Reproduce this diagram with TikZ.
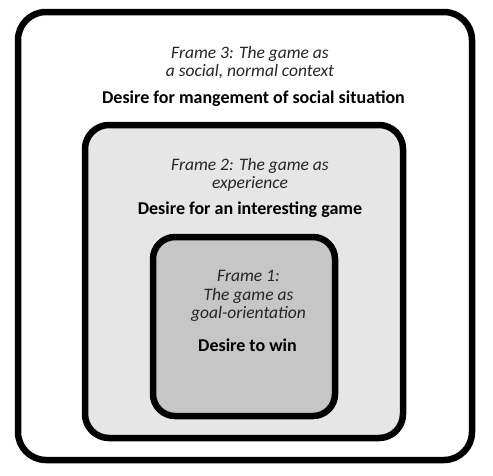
\documentclass[tikz,border=0pt]{standalone}
\usepackage{fontspec}
\setmainfont{Carlito}
\usepackage{tikz}
\definecolor{grauhell}{HTML}{E6E6E6}
\definecolor{graudunkel}{HTML}{C6C6C6}
\tikzset{
    rahmen/.style={
           rectangle,
           rounded corners=24pt,
           draw=black, line width=6.5pt},
    titel/.style={
           align=center, inner sep=0pt,
           font=\fontsize{17.5}{18.5}\selectfont\itshape,
           text=black!85},
    wunsch/.style={
           align=center, inner sep=0pt,
           font=\fontsize{18}{18}\selectfont\bfseries}
    }
\begin{document}
\begin{tikzpicture}[x=1pt,y=-1pt]
      \useasboundingbox (0,0) rectangle (493,475);
      \node[rahmen, fill=white, minimum width=454pt, minimum height=448pt, rounded corners=28pt] (f3) at (245,236) {};
      \node[rahmen, fill=grauhell, minimum width=318pt, minimum height=313pt] (f2) at (244,281.5) {};
      \node[rahmen, fill=graudunkel, minimum width=182pt, minimum height=179pt, rounded corners=22pt] (f1) at (244,326.5) {};
      \node[titel] (t3) at (250,62.5) {Frame 3: The game as\\a social, normal context};
      \node[wunsch] (w3) at (253.5,99) {Desire for mangement of social situation};
      \node[titel] (t2) at (250,175) {Frame 2: The game as\\experience};
      \node[wunsch] (w2) at (250,209.5) {Desire for an interesting game};
      \node[titel] (t1) at (248.5,296) {Frame 1:\\The game as\\goal-orientation};
      \node[wunsch] (w1) at (247.5,345) {Desire to win};
     \end{tikzpicture}
\end{document}
